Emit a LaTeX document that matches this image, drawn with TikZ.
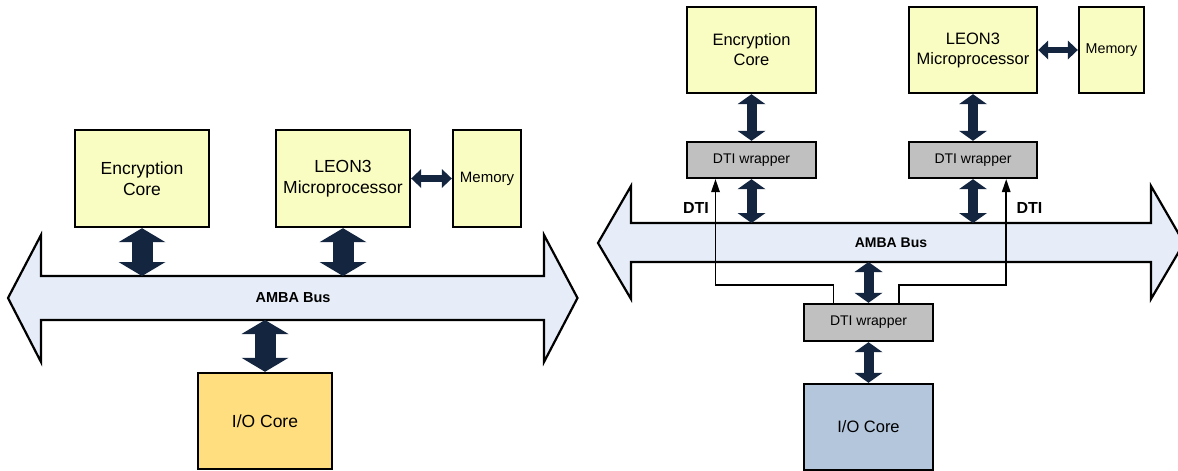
\documentclass[tikz,border=0pt]{standalone}
\usepackage{fontspec}
\setmainfont{Liberation Sans}
\usetikzlibrary{arrows.meta,calc}
\definecolor{boxyellow}{HTML}{FAFDC2}
\definecolor{iogold}{HTML}{FFDE80}
\definecolor{busblue}{HTML}{E6EDF8}
\definecolor{wrapgray}{HTML}{C0C0C0}
\definecolor{iosteel}{HTML}{B3C6DC}
\definecolor{arrownavy}{HTML}{14263F}
\tikzset{
  blk/.style={draw=black, line width=2.4pt, fill=boxyellow, align=center, inner sep=0pt},
  bigL/.style={blk, minimum width=134pt, minimum height=97pt, font=\fontsize{17.5}{21}\selectfont},
  bigR/.style={blk, minimum width=129pt, minimum height=86pt, font=\fontsize{16.5}{20}\selectfont},
  wrapbox/.style={blk, fill=wrapgray, minimum width=129pt, minimum height=36pt, font=\fontsize{14}{16}\selectfont},
  busshape/.style={draw=black, line width=2.2pt, fill=busblue, line join=miter},
  bustext/.style={font=\bfseries\fontsize{14.5}{16}\selectfont, inner sep=0pt},
  dtilabel/.style={font=\bfseries\fontsize{16}{18}\selectfont, inner sep=0pt},
  thickarrowL/.style={draw=arrownavy, line width=21pt,
     {Triangle[length=14pt,width=47pt,line width=0pt]}-{Triangle[length=14pt,width=47pt,line width=0pt]}},
  thickarrowR/.style={draw=arrownavy, line width=10pt,
     {Triangle[length=10pt,width=28pt,line width=0pt]}-{Triangle[length=10pt,width=28pt,line width=0pt]}},
  memarrow/.style={draw=arrownavy, line width=7pt,
     {Triangle[length=10pt,width=19pt,line width=0pt]}-{Triangle[length=10pt,width=19pt,line width=0pt]}},
  dtiline/.style={draw=black, line width=1.5pt, -{Triangle[length=13pt,width=9pt,line width=0pt]}}
}
\begin{document}
\begin{tikzpicture}[x=1pt,y=-1pt]
\clip (0,0) rectangle (1178,471);
\fill[white] (0,0) rectangle (1178,471);

% ---------------- left diagram ----------------
\draw[busshape] (8,298) -- (41,235) -- (41,276) -- (544,276) -- (544,235) -- (577.5,298)
  -- (544,362) -- (544,320) -- (41,320) -- (41,362) -- cycle;
\node[bustext] (busL) at (293,298) {AMBA Bus};
\coordinate (busLtop) at (0,276);
\coordinate (busLbot) at (0,320);

\node[bigL] (encL) at (142,178.5) {Encryption\\Core};
\node[bigL] (leonL) at (343,178.5) {LEON3\\Microprocessor};
\node[blk, minimum width=68pt, minimum height=97pt, font=\fontsize{15}{18}\selectfont] (memL) at (487,178.5) {Memory};
\node[bigL, fill=iogold, minimum height=96pt] (ioL) at (265,421) {I/O Core};

\draw[thickarrowL] (encL.south) -- (encL.south |- busLtop);
\draw[thickarrowL] (leonL.south) -- (leonL.south |- busLtop);
\draw[thickarrowL] (ioL.north |- busLbot) -- (ioL.north);
\draw[memarrow] (leonL.east) -- (memL.west);

% ---------------- right diagram ----------------
\draw[busshape] (598,243) -- (631,186) -- (631,223) -- (1151,223) -- (1151,186) -- (1184,243)
  -- (1151,299) -- (1151,262) -- (631,262) -- (631,299) -- cycle;
\node[bustext, font=\bfseries\fontsize{14}{16}\selectfont] (busR) at (891,243) {AMBA Bus};
\coordinate (busRtop) at (0,223);
\coordinate (busRbot) at (0,262);
\coordinate (dtiy) at (0,285);

\node[bigR] (encR) at (751.5,50) {Encryption\\Core};
\node[bigR, minimum width=128pt] (leonR) at (973,50) {LEON3\\Microprocessor};
\node[blk, minimum width=65pt, minimum height=86pt, font=\fontsize{14.3}{17}\selectfont] (memR) at (1111.5,50) {Memory};
\node[wrapbox] (wrap1) at (751.5,160) {DTI wrapper};
\node[wrapbox, minimum width=128pt] (wrap2) at (973,160) {DTI wrapper};
\node[wrapbox, minimum height=37pt] (wrap3) at (868.5,322.5) {DTI wrapper};
\node[bigR, fill=iosteel] (ioR) at (868.5,427) {I/O Core};

\draw[thickarrowR] (encR.south) -- (wrap1.north);
\draw[thickarrowR] (leonR.south) -- (wrap2.north);
\draw[thickarrowR] (wrap1.south) -- (wrap1.south |- busRtop);
\draw[thickarrowR] (wrap2.south) -- (wrap2.south |- busRtop);
\draw[thickarrowR] (wrap3.north |- busRbot) -- (wrap3.north);
\draw[thickarrowR] (wrap3.south) -- (ioR.north);
\draw[memarrow, line width=6pt] (leonR.east) -- (memR.west);

\coordinate (d1) at ($(wrap1.south west)+(29.7,0)$);
\coordinate (d2) at ($(wrap2.south east)+(-32,0)$);
\draw[dtiline] ($(wrap3.north west)+(30.5,0)$) |- (d1 |- dtiy) -- (d1);
\draw[dtiline] ($(wrap3.north east)+(-35,0)$) |- (d2 |- dtiy) -- (d2);
\node[dtilabel] (dtiL) at (696,208) {DTI};
\node[dtilabel] (dtiR) at (1029.5,208) {DTI};
\end{tikzpicture}
\end{document}
